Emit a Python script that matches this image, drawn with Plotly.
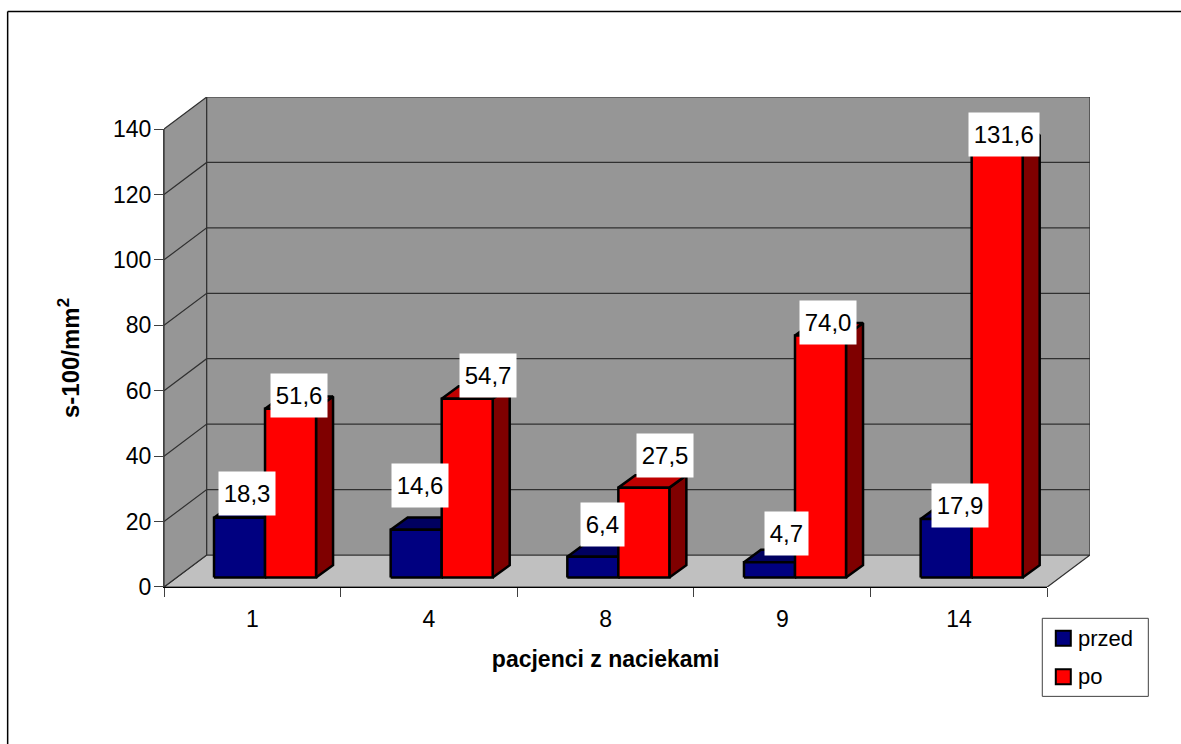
import plotly.graph_objects as go

# Chart data
categories = ["1", "4", "8", "9", "14"]
series_names = ["przed", "po"]
przed = [18.3, 14.6, 6.4, 4.7, 17.9]
po = [51.6, 54.7, 27.5, 74.0, 131.6]
y_ticks = [0, 20, 40, 60, 80, 100, 120, 140]

# Front plane of the plot and the depth of the walls, in pixels
W, H = 1181, 744
FRONT_L, FRONT_R, FRONT_T, FRONT_B = 164, 1047, 129, 586.7
DEPTH_X, DEPTH_Y = 42.7, 32
px_x = (FRONT_R - FRONT_L) / 5
px_y = (FRONT_B - FRONT_T) / 140
TOTAL_W = FRONT_R - FRONT_L + DEPTH_X
TOTAL_H = FRONT_B - FRONT_T + DEPTH_Y

# The same depths and bar sizes in axis units
WALL_DX, WALL_DY = DEPTH_X / px_x, DEPTH_Y / px_y
BAR_DX, BAR_DY = 17 / px_x, 12.4 / px_y
BAR_BASE = 9.4 / px_y
BAR_OFFSET = 50 / px_x
BAR_WIDTH = 51 / px_x

# Pixel offsets of the value boxes from each bar's front top centre
przed_shift = [(7.5, 24), (3.9, 44.3), (9.3, 31.9), (16.7, 28.4), (14.1, 13.5)]
po_shift = [(8.5, 13.3), (20.9, 23.4), (21.3, 32.1), (7.7, 13), (7.1, 12.7)]

DARK = "#303030"
fig = go.Figure()


def poly(xs, ys, fill, line="#000000", width=2.5, name=None):
    fig.add_trace(go.Scatter(
        x=xs + xs[:1], y=ys + ys[:1], mode="lines", fill="toself", fillcolor=fill,
        line=dict(color=line, width=width), showlegend=False, hoverinfo="skip", name=name))


def seg(xs, ys, color=DARK, width=1.2):
    fig.add_trace(go.Scatter(
        x=xs, y=ys, mode="lines", line=dict(color=color, width=width),
        showlegend=False, hoverinfo="skip"))


# Floor, side wall and back wall
poly([0, 5, 5 + WALL_DX, WALL_DX], [0, 0, WALL_DY, WALL_DY], "#C0C0C0", DARK, 1.2)
poly([0, WALL_DX, WALL_DX, 0], [0, WALL_DY, 140 + WALL_DY, 140], "#969696", DARK, 1.2)
poly([WALL_DX, 5 + WALL_DX, 5 + WALL_DX, WALL_DX],
     [WALL_DY, WALL_DY, 140 + WALL_DY, 140 + WALL_DY], "#969696", DARK, 1.2)

# Gridlines run along the side wall and across the back wall
for t in y_ticks[1:-1]:
    seg([0, WALL_DX, 5 + WALL_DX], [t, t + WALL_DY, t + WALL_DY])


def bar(left, value, front, top, side, name):
    right = left + BAR_WIDTH
    y0, y1 = BAR_BASE, BAR_BASE + value
    poly([right, right + BAR_DX, right + BAR_DX, right],
         [y0, y0 + BAR_DY, y1 + BAR_DY, y1], side)
    poly([left, left + BAR_DX, right + BAR_DX, right],
         [y1, y1 + BAR_DY, y1 + BAR_DY, y1], top)
    poly([left, right, right, left], [y0, y0, y1, y1], front, name=name)


for i in range(len(categories)):
    left = i + BAR_OFFSET
    bar(left, przed[i], "#000080", "#000060", "#000040", series_names[0])
    bar(left + BAR_WIDTH, po[i], "#FF0000", "#BF0000", "#7F0000", series_names[1])

# Value boxes above the bars
for i in range(len(categories)):
    left = i + BAR_OFFSET
    for value, x, shift in ((przed[i], left + BAR_WIDTH / 2, przed_shift[i]),
                            (po[i], left + 1.5 * BAR_WIDTH, po_shift[i])):
        text = f"{value:.1f}".replace(".", ",")
        fig.add_annotation(
            x=x, y=BAR_BASE + value, xref="x", yref="y", text=text, showarrow=False,
            xshift=shift[0], yshift=shift[1], bgcolor="#FFFFFF",
            width=13.4 * len(text) + 2.5, height=43, borderpad=0,
            font=dict(family="Liberation Sans", size=24, color="#000000"))


# The visible axes live on a second subplot limited to the front plane
fig.add_trace(go.Scatter(x=[None], y=[None], xaxis="x2", yaxis="y2", mode="markers",
                         showlegend=False, hoverinfo="skip"))


def paper_x(px):
    return (px - FRONT_L) / TOTAL_W


def paper_y(px):
    return (FRONT_B - px) / TOTAL_H


# Legend box, swatches and names
shapes = [
    dict(type="rect", xref="paper", yref="paper", x0=paper_x(1042), x1=paper_x(1148),
         y0=paper_y(696), y1=paper_y(618), line=dict(color="#404040", width=1),
         fillcolor="#FFFFFF"),
]
for name, color, cy in zip(series_names, ("#000080", "#FF0000"), (638, 676.5)):
    shapes.append(dict(type="rect", xref="paper", yref="paper", x0=paper_x(1055.5),
                       x1=paper_x(1070.5), y0=paper_y(cy + 7.5), y1=paper_y(cy - 7.5),
                       line=dict(color="#000000", width=2), fillcolor=color))
    fig.add_annotation(x=paper_x(1076), y=paper_y(cy), xref="paper", yref="paper",
                       xanchor="left", yanchor="middle", text=name, showarrow=False,
                       font=dict(family="Liberation Sans", size=22, color="#000000"))

fig.update_layout(
    width=W, height=H, autosize=False, showlegend=False,
    margin=dict(l=FRONT_L, r=W - FRONT_L - TOTAL_W, t=FRONT_B - TOTAL_H, b=H - FRONT_B, pad=0),
    paper_bgcolor="#FFFFFF", plot_bgcolor="rgba(0,0,0,0)",
    font=dict(family="Liberation Sans", color="#000000"),
    xaxis=dict(range=[0, 5 + WALL_DX], visible=False, domain=[0, 1], fixedrange=True),
    yaxis=dict(range=[0, 140 + WALL_DY], visible=False, domain=[0, 1], fixedrange=True),
    xaxis2=dict(
        domain=[0, (FRONT_R - FRONT_L) / TOTAL_W], anchor="y2",
        range=[0, 5], tickmode="array", tickvals=[i + 0.5 for i in range(5)],
        ticktext=categories, ticks="outside", ticklen=11, tickcolor="rgba(0,0,0,0)",
        tickfont=dict(size=23), showgrid=False, zeroline=False, showline=True,
        linecolor="#000000", linewidth=1,
        minor=dict(tickmode="array", tickvals=[0, 1, 2, 3, 4, 5], ticks="outside",
                   ticklen=9, tickcolor="#404040", tickwidth=1, showgrid=False),
        title=dict(text="<b>pacjenci z naciekami</b>", font=dict(size=23), standoff=20)),
    yaxis2=dict(
        domain=[0, (FRONT_B - FRONT_T) / TOTAL_H], anchor="x2",
        range=[0, 140], tickmode="array", tickvals=y_ticks, ticks="outside", ticklen=9,
        ticklabelstandoff=-2,
        tickcolor="#404040", tickfont=dict(size=23), showgrid=False, zeroline=False,
        showline=True, linecolor="#404040", linewidth=1,
        title=dict(text="<b>s-100/mm<sup>2</sup></b>", font=dict(size=24), standoff=26)),
    shapes=shapes + [
        # Top and left edges of the chart area run off the page
        dict(type="line", xref="paper", yref="paper", x0=paper_x(7.7), x1=paper_x(W + 2),
             y0=paper_y(11.5), y1=paper_y(11.5), line=dict(color="#000000", width=1.5)),
        dict(type="line", xref="paper", yref="paper", x0=paper_x(7.7), x1=paper_x(7.7),
             y0=paper_y(H + 2), y1=paper_y(11.5), line=dict(color="#000000", width=1.5)),
    ],
)

fig.write_html("out.html")
